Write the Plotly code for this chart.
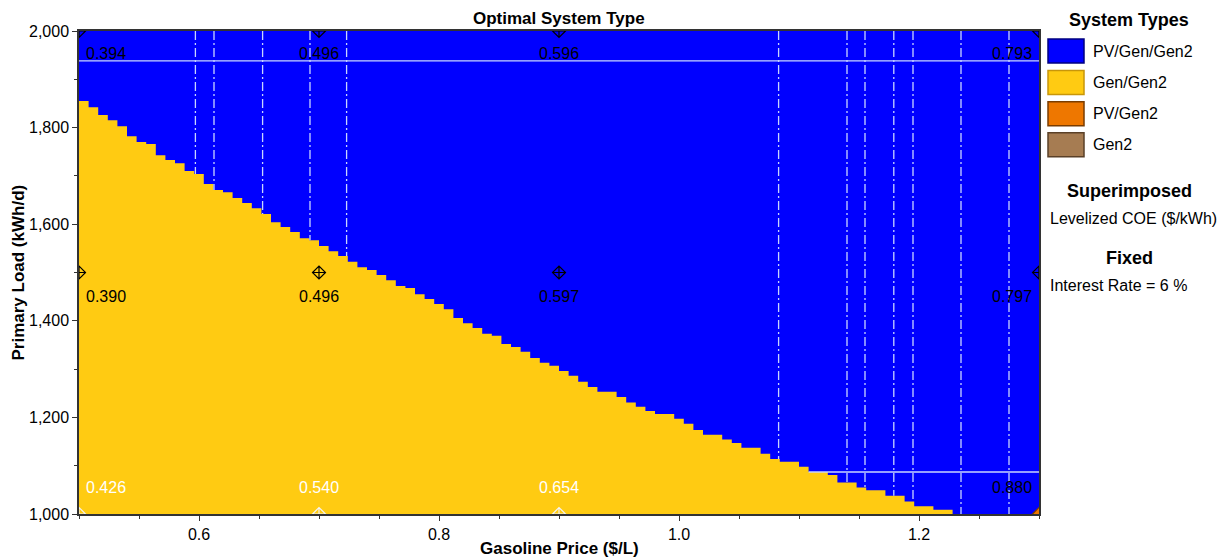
import numpy as np
import plotly.graph_objects as go

# ---------------- data ----------------
price_edges = np.round(np.linspace(0.5, 1.3, 101), 4)   # sensitivity grid of gasoline price ($/L)

# upper edge of the Gen/Gen2 (yellow) region for each price column (kWh/d)
boundary_load = [
    1855, 1842, 1826, 1815, 1803, 1782, 1770, 1766, 1743, 1733,
    1726, 1710, 1704, 1683, 1671, 1666, 1654, 1644, 1633, 1621,
    1604, 1594, 1584, 1571, 1567, 1555, 1544, 1534, 1522, 1511,
    1505, 1495, 1484, 1472, 1468, 1455, 1445, 1435, 1424, 1406,
    1395, 1385, 1373, 1369, 1352, 1346, 1336, 1323, 1313, 1307,
    1296, 1286, 1274, 1263, 1253, 1253, 1242, 1231, 1222, 1213,
    1207, 1207, 1197, 1187, 1174, 1164, 1164, 1154, 1147, 1137,
    1137, 1125, 1114, 1108, 1108, 1098, 1087, 1087, 1081, 1065,
    1065, 1055, 1049, 1049, 1038, 1038, 1026, 1016, 1016, 1009,
    1009, 1000, 1000, 1000, 1000, 1000, 1000, 1000, 1000, 1000,
]

point_prices = [0.5, 0.7, 0.9, 1.3]
coe_load_2000 = [0.394, 0.496, 0.596, 0.793]
coe_load_1500 = [0.390, 0.496, 0.597, 0.797]
coe_load_1000 = [0.426, 0.540, 0.654, 0.880]
point_loads = [2000, 1500, 1000]

contour_v_prices = [0.597, 0.6125, 0.653, 0.6925, 0.723, 1.083,
                    1.14, 1.155, 1.179, 1.195, 1.235, 1.275]
contour_h_loads = [1938, 1087]

system_types = ["PV/Gen/Gen2", "Gen/Gen2", "PV/Gen2", "Gen2"]
type_colors = ["#0000FF", "#FFCB12", "#EE7700", "#A67C52"]
type_borders = ["#000080", "#C8960A", "#7A3C00", "#5A4028"]

x_ticks = [0.6, 0.8, 1.0, 1.2]
y_ticks = [1000, 1200, 1400, 1600, 1800, 2000]

# ---------------- figure ----------------
FONT = "Liberation Sans, Arial, sans-serif"
W, H = 1228, 560
L, R, T, B = 79, 189, 31, 46
PW, PH = W - L - R, H - T - B


def px_x(px):
    return (px - L) / PW


def px_y(py):
    return 1 - (py - T) / PH


fig = go.Figure()

# Gen/Gen2 region (yellow) over blue background
xs = list(price_edges[:100]) + [price_edges[100]]
ys = list(boundary_load) + [boundary_load[-1]]
fig.add_trace(go.Scatter(
    x=xs, y=ys, mode="lines", line=dict(width=0, color=type_colors[1], shape="hv"),
    fill="tozeroy", fillcolor=type_colors[1], hoverinfo="skip", showlegend=False))

step = price_edges[1] - price_edges[0]


def boundary_at(p):
    i = int(min(99, max(0, (p - 0.5) // step)))
    return boundary_load[i]


# vertical contour lines (dash-dot) from top down to the boundary
vx, vy = [], []
for p in contour_v_prices:
    vx += [p, p, None]
    vy += [2000, boundary_at(p), None]
fig.add_trace(go.Scatter(x=vx, y=vy, mode="lines",
                         line=dict(color="#C8D4FF", width=1.3, dash="9px,3px,2px,3px"),
                         hoverinfo="skip", showlegend=False))

# horizontal contour lines (solid) over blue region
hx, hy = [], []
for ld in contour_h_loads:
    start = next(i for i in range(100) if boundary_load[i] <= ld)
    hx += [price_edges[start], 1.3, None]
    hy += [ld, ld, None]
fig.add_trace(go.Scatter(x=hx, y=hy, mode="lines",
                         line=dict(color="#C8D4FF", width=1.3),
                         hoverinfo="skip", showlegend=False))

# sensitivity points + superimposed values
coe_rows = [coe_load_2000, coe_load_1500, coe_load_1000]
mx, my, mcol, msym = [], [], [], []
for ld, row in zip(point_loads, coe_rows):
    for j, (p, v) in enumerate(zip(point_prices, row)):
        mx.append(p)
        my.append(ld)
        if ld == 1000 and p == 1.3:
            mcol.append(type_colors[2]); msym.append("diamond")
        elif ld == 1000:
            mcol.append("#F4F4F4"); msym.append("diamond-cross-open")
        else:
            mcol.append("#000000"); msym.append("diamond-cross-open")
        if j == 0:
            xa, xs_ = "left", 5
        elif p == 1.3:
            xa, xs_ = "right", -5
        else:
            xa, xs_ = "center", 0
        ysh = {2000: -22, 1500: -24, 1000: 27}[ld]
        on_yellow = ld < boundary_at(min(p, 1.299))
        tcol = "#FFFFFF" if (ld == 1000 and on_yellow) else "#000000"
        fig.add_annotation(x=p, y=ld, text=f"{v:.3f}", showarrow=False,
                           xanchor=xa, yanchor="middle", xshift=xs_, yshift=ysh,
                           font=dict(family=FONT, size=16, color=tcol))

fig.add_trace(go.Scatter(x=mx, y=my, mode="markers",
                         marker=dict(symbol=msym, size=10, color=mcol,
                                     line=dict(width=1.2, color=["#000000"] * 8 + ["#F4F4F4"] * 3 + ["#7A3C00"])),
                         hoverinfo="skip", showlegend=False))

# title
fig.add_annotation(xref="paper", yref="paper", x=0.5, y=1, yanchor="middle", yshift=13,
                   text="<b>Optimal System Type</b>", showarrow=False,
                   font=dict(family=FONT, size=17, color="#000000"))

# right-side legend
cx = px_x(1129)
fig.add_annotation(xref="paper", yref="paper", x=cx, y=px_y(20), xanchor="center", yanchor="middle",
                   text="<b>System Types</b>", showarrow=False,
                   font=dict(family=FONT, size=18, color="#000000"))
row_centers = [51, 82.5, 113.7, 144.8]
for name, col, bcol, yc in zip(system_types, type_colors, type_borders, row_centers):
    fig.add_shape(type="rect", xref="paper", yref="paper",
                  x0=px_x(1048), x1=px_x(1084), y0=px_y(yc - 12), y1=px_y(yc + 12),
                  fillcolor=col, line=dict(color=bcol, width=1.5))
    fig.add_annotation(xref="paper", yref="paper", x=px_x(1091), y=px_y(yc), xanchor="left",
                       yanchor="middle", text=name, showarrow=False,
                       font=dict(family=FONT, size=16, color="#000000"))
fig.add_annotation(xref="paper", yref="paper", x=cx, y=px_y(191), xanchor="center", yanchor="middle",
                   text="<b>Superimposed</b>", showarrow=False,
                   font=dict(family=FONT, size=18, color="#000000"))
fig.add_annotation(xref="paper", yref="paper", x=px_x(1048), y=px_y(218), xanchor="left", yanchor="middle",
                   text="Levelized COE ($/kWh)", showarrow=False,
                   font=dict(family=FONT, size=16, color="#000000"))
fig.add_annotation(xref="paper", yref="paper", x=cx, y=px_y(258), xanchor="center", yanchor="middle",
                   text="<b>Fixed</b>", showarrow=False,
                   font=dict(family=FONT, size=18, color="#000000"))
fig.add_annotation(xref="paper", yref="paper", x=px_x(1048), y=px_y(285), xanchor="left", yanchor="middle",
                   text="Interest Rate = 6 %", showarrow=False,
                   font=dict(family=FONT, size=16, color="#000000"))

# axis titles as annotations (exact placement)
fig.add_annotation(xref="paper", yref="paper", x=0.5, y=px_y(548), xanchor="center", yanchor="middle",
                   text="<b>Gasoline Price ($/L)</b>", showarrow=False,
                   font=dict(family=FONT, size=17, color="#000000"))
fig.add_annotation(xref="paper", yref="paper", x=px_x(18), y=0.5, xanchor="center", yanchor="middle",
                   text="<b>Primary Load (kWh/d)</b>", showarrow=False, textangle=-90,
                   font=dict(family=FONT, size=17, color="#000000"))

axis_common = dict(showgrid=False, zeroline=False, showline=True, linecolor="#333333", linewidth=1.5,
                   mirror=True, ticks="outside", ticklen=5, tickcolor="#333333", tickwidth=1,
                   automargin=False,
                   tickfont=dict(family=FONT, size=16, color="#000000"))

fig.update_xaxes(range=[0.5, 1.3], tickvals=x_ticks, ticktext=[f"{v:.1f}" for v in x_ticks],
                 minor=dict(dtick=0.05, tick0=0.5, ticks="outside", ticklen=3, tickcolor="#333333"),
                 **axis_common)
fig.update_yaxes(range=[1000, 2000], tickvals=y_ticks, ticktext=[f"{v:,}" for v in y_ticks],
                 minor=dict(dtick=100, tick0=1000, ticks="outside", ticklen=3, tickcolor="#333333"),
                 **axis_common)

fig.update_layout(width=W, height=H, margin=dict(l=L, r=R, t=T, b=B, autoexpand=False),
                  plot_bgcolor=type_colors[0], paper_bgcolor="#FFFFFF", showlegend=False)

fig.write_html("out.html")
